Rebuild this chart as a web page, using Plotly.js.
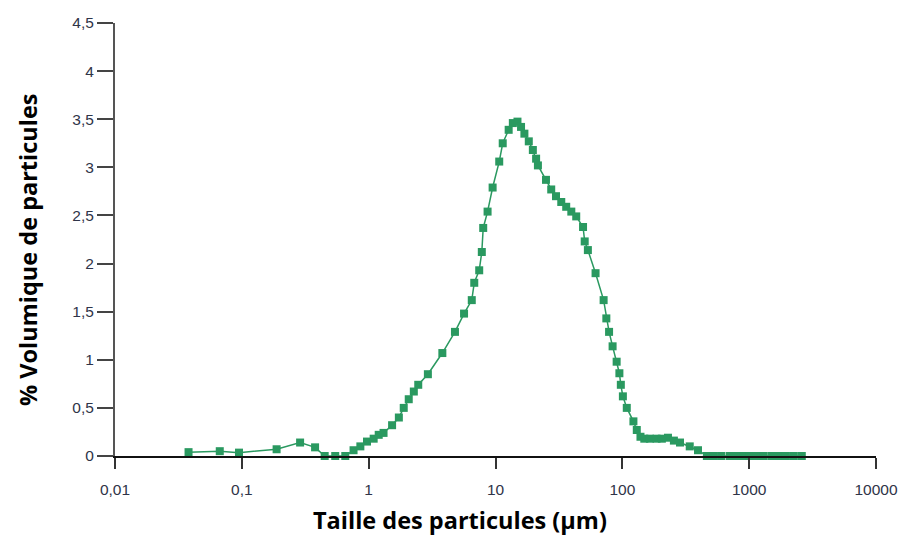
<!DOCTYPE html>
<html>
<head>
<meta charset="utf-8">
<script src="https://cdn.plot.ly/plotly-3.0.1.min.js"></script>
<style>
html,body{margin:0;padding:0;background:#fff;}
#chart{width:907px;height:539px;}
</style>
</head>
<body>
<div id="chart"></div>
<script>
// Particle size (µm)
const sizes = [0.038, 0.067, 0.095, 0.188, 0.288, 0.378, 0.45, 0.545, 0.654, 0.76, 0.86, 0.97,
  1.095, 1.2, 1.31, 1.53, 1.73, 1.89, 2.07, 2.27, 2.46, 2.93, 3.81, 4.79, 5.65, 6.5, 6.8, 7.44,
  7.8, 8.0, 8.66, 9.49, 10.7, 11.4, 12.7, 13.7, 14.9, 15.9, 16.9, 18.3, 19.7, 20.9, 21.6, 25.0,
  27.5, 30.0, 33.0, 36.1, 39.6, 43.3, 49.0, 50.5, 53.5, 61.5, 71.2, 74.8, 78.6, 83.8, 90.2, 94.8,
  97.3, 101, 108.4, 122.3, 130, 139, 149, 165, 186, 205, 229, 255, 285, 340, 395, 464,
  520, 600, 700, 800, 900, 1000, 1150, 1300, 1500, 1700, 1950, 2250, 2600];
// Volume percentage
const volumes = [0.04, 0.05, 0.035, 0.07, 0.14, 0.09, 0, 0, 0, 0.06, 0.10, 0.15,
  0.18, 0.22, 0.24, 0.32, 0.40, 0.50, 0.59, 0.67, 0.74, 0.85, 1.07, 1.29, 1.48, 1.62, 1.80, 1.93,
  2.12, 2.37, 2.54, 2.79, 3.06, 3.25, 3.39, 3.46, 3.475, 3.42, 3.35, 3.27, 3.18, 3.09, 3.02, 2.87,
  2.77, 2.70, 2.64, 2.59, 2.54, 2.49, 2.38, 2.23, 2.14, 1.90, 1.62, 1.43, 1.29, 1.14, 0.98, 0.86,
  0.74, 0.62, 0.50, 0.36, 0.27, 0.20, 0.18, 0.18, 0.18, 0.18, 0.19, 0.16, 0.14, 0.10, 0.06, 0.0,
  0, 0, 0, 0, 0, 0, 0, 0, 0, 0, 0, 0, 0];
const xTickVals = [0.01, 0.1, 1, 10, 100, 1000, 10000];
const xTickText = ['0,01', '0,1', '1', '10', '100', '1000', '10000'];
const yTickVals = [0, 0.5, 1, 1.5, 2, 2.5, 3, 3.5, 4, 4.5];
const yTickText = ['0', '0,5', '1', '1,5', '2', '2,5', '3', '3,5', '4', '4,5'];
const xTitle = 'Taille des particules (µm)';
const yTitle = '% Volumique de particules';

const green = '#2a9960';
const trace = {
  x: sizes, y: volumes, type: 'scatter', mode: 'lines+markers',
  line: {color: green, width: 1.5},
  marker: {symbol: 'square', size: 8, color: green},
  cliponaxis: false, showlegend: false
};
const titleFont = {family: 'Open Sans, sans-serif', size: 23.5, color: '#000', weight: 'bold'};
const tickFont = {family: 'Liberation Sans, Arial, sans-serif', size: 15.5, color: '#2f3448'};
const layout = {
  width: 907, height: 539,
  margin: {l: 115, r: 31, t: 23, b: 83},
  paper_bgcolor: '#fff', plot_bgcolor: '#fff',
  font: tickFont,
  xaxis: {
    type: 'log', range: [-2, 4],
    tickvals: xTickVals, ticktext: xTickText,
    ticks: 'outside', ticklen: 11, tickwidth: 2, tickcolor: '#333',
    ticklabelstandoff: 7,
    showline: true, linecolor: '#111', linewidth: 2,
    showgrid: false, zeroline: false,
    tickfont: tickFont
  },
  yaxis: {
    range: [0, 4.5],
    tickvals: yTickVals, ticktext: yTickText,
    ticks: 'outside', ticklen: 16, tickwidth: 2, tickcolor: '#444',
    showline: true, linecolor: '#555', linewidth: 2,
    showgrid: false, zeroline: false,
    tickfont: tickFont
  },
  annotations: [
    {text: xTitle, xref: 'paper', yref: 'paper', x: (460 - 115) / 761, y: -(520 - 456) / 433,
      xanchor: 'center', yanchor: 'middle', showarrow: false, font: titleFont},
    {text: yTitle, xref: 'paper', yref: 'paper', x: -(115 - 28) / 761, y: (456 - 250) / 433,
      xanchor: 'center', yanchor: 'middle', textangle: -90, showarrow: false, font: titleFont}
  ]
};
Plotly.newPlot('chart', [trace], layout, {displayModeBar: false, staticPlot: true});
</script>
</body>
</html>
